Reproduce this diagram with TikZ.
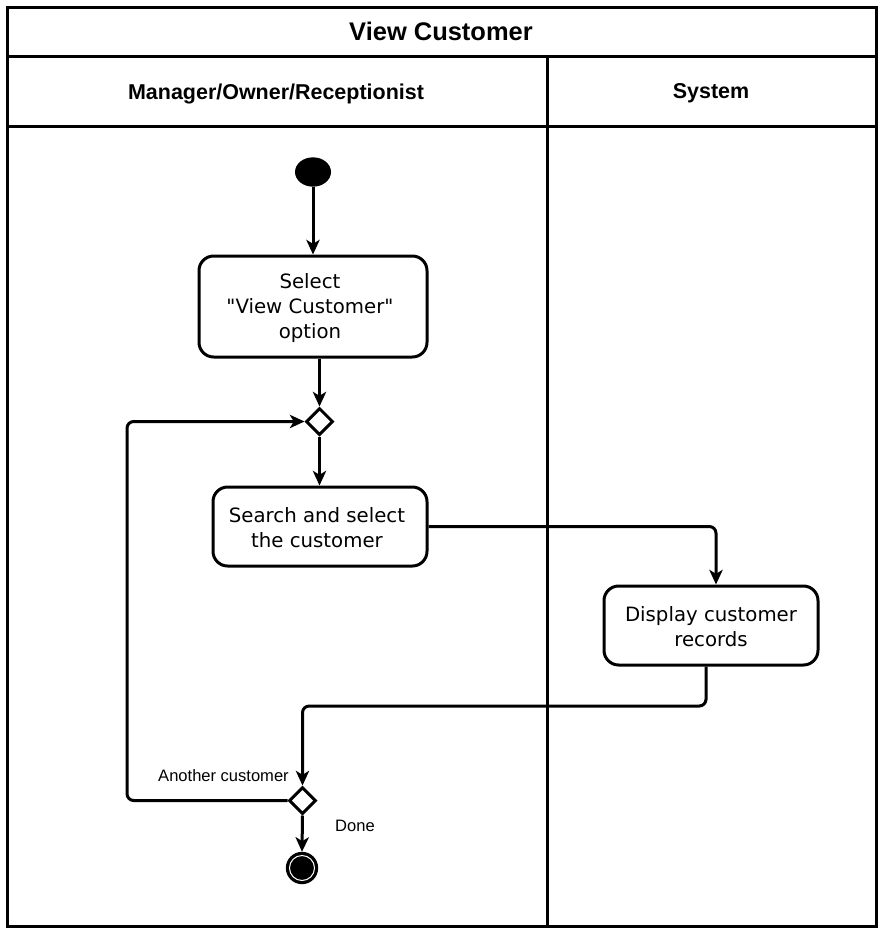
\documentclass[tikz,border=0pt]{standalone}
\usepackage{fontspec}
\setmainfont{Liberation Sans}
\newfontfamily\boxfont{DejaVu Sans}
\usetikzlibrary{arrows.meta,shapes.geometric}
\begin{document}
\begin{tikzpicture}[x=0.75pt,y=-0.75pt,
  lane/.style={line width=2.25pt,draw=black},
  act/.style={draw,line width=2.25pt,rounded corners=11pt,align=center,inner sep=0pt,
    font=\boxfont\fontsize{14.8}{18.75}\selectfont},
  dec/.style={draw,line width=2.25pt,diamond,inner sep=0pt,minimum width=20.25pt,minimum height=20.25pt,fill=white},
  flow/.style={line width=2.25pt,rounded corners=5pt,-{Stealth[length=11pt,width=10pt,inset=3pt]}},
  hdr/.style={font=\bfseries\fontsize{16.1}{19}\selectfont},
  lbl/.style={font=\fontsize{12.4}{15}\selectfont,inner sep=0pt}]
\useasboundingbox (0,0) rectangle (883,933);
% swimlanes
\draw[lane] (7,7) rectangle (876,926);
\draw[lane] (7,56) -- (876,56);
\draw[lane] (7,126) -- (876,126);
\draw[lane] (547,56) -- (547,926);
\node[font=\bfseries\fontsize{19.1}{22}\selectfont] (title) at (441,31) {View Customer};
\node[hdr] (h1) at (276,94) {Manager/Owner/Receptionist};
\node[hdr] (h2) at (711,93) {System};
% nodes
\node[ellipse,fill=black,inner sep=0pt,minimum width=27pt,minimum height=22pt] (start) at (313,172) {};
\node[act,minimum width=171pt,minimum height=75.75pt] (sel) at (313,306.5) {};
\node[font=\boxfont\fontsize{14.8}{18.75}\selectfont,align=center,inner sep=0pt] (selt) at (310,308) {Select\\"View Customer"\\option};
\node[dec] (d1) at (319.5,421.5) {};
\node[act,minimum width=160.5pt,minimum height=59.25pt] (search) at (320,526.5) {};
\node[font=\boxfont\fontsize{14.8}{18.75}\selectfont,align=center,inner sep=0pt] (searcht) at (317,528) {Search and select\\the customer};
\node[act,minimum width=160.5pt,minimum height=59.25pt] (disp) at (711,625.5) {};
\node[font=\boxfont\fontsize{14.8}{18.75}\selectfont,align=center,inner sep=0pt] (dispt) at (711,627) {Display customer\\records};
\node[dec] (d2) at (302.5,800.5) {};
\node[circle,fill=black,draw=black,line width=2.25pt,inner sep=0pt,minimum size=22pt] (end) at (302,868) {};
\draw[white,line width=0.75pt] (end.center) circle (12.5);
\coordinate (m2) at (706,706);
\coordinate (lb) at (127,800.5);
% connectors
\draw[flow] (start) -- (sel);
\draw[flow] (sel.south -| d1.north) -- (d1.north);
\draw[flow] (d1.south) -- (search.north -| d1.south);
\draw[flow] (search.east) -| ([xshift=3.75pt]disp.north);
\draw[flow] ([xshift=-3.75pt]disp.south) -- (m2) -| (d2.north);
\draw[flow] (d2.west) -- (lb) |- (d1.west);
\draw[flow] (d2.south) -- (end.north);
\node[lbl,anchor=east] (another) at (289,776) {Another customer};
\node[lbl] (done) at (355,826) {Done};
\end{tikzpicture}
\end{document}
